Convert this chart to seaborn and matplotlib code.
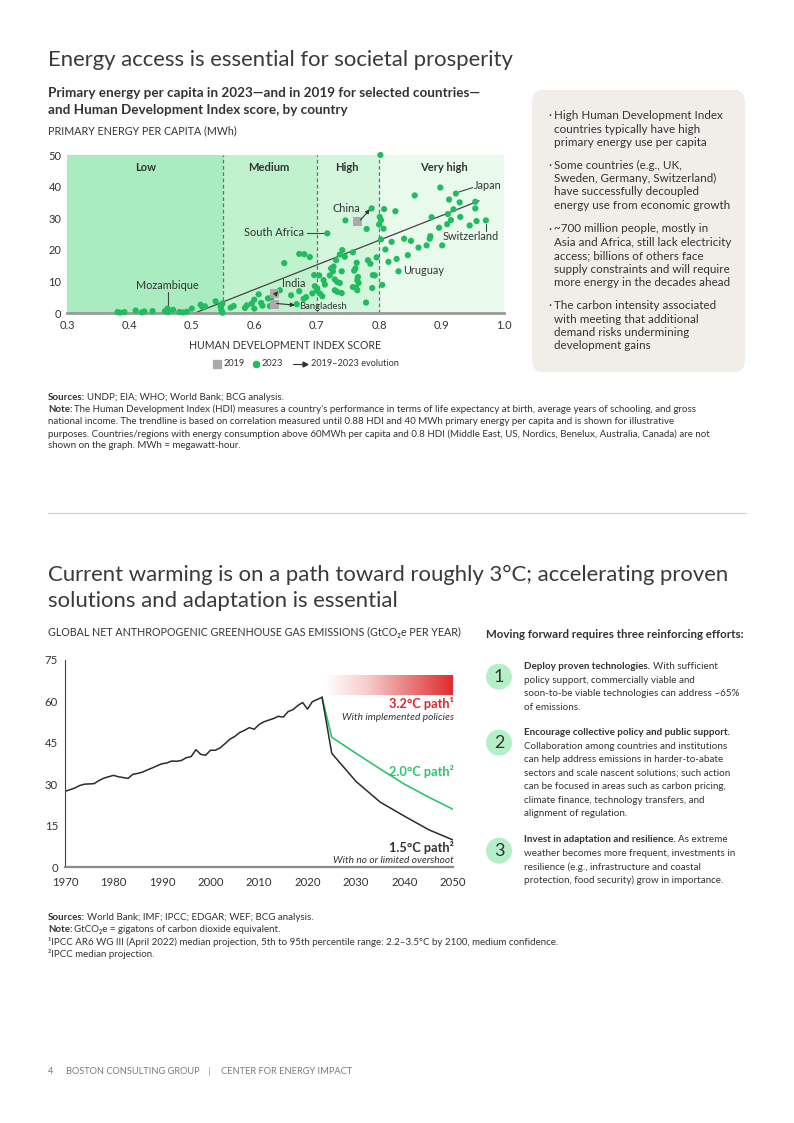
import numpy as np
import pandas as pd
import matplotlib
matplotlib.use("Agg")
import matplotlib.pyplot as plt
import seaborn as sns
from matplotlib.patches import FancyBboxPatch, Ellipse
from matplotlib.lines import Line2D
from matplotlib.colors import LinearSegmentedColormap

sns.set_theme(style="white")
plt.rcParams["font.family"] = ["Lato", "DejaVu Sans"]

# ---------------- data: HDI vs primary energy ----------------
hdi_2023 = [0.381, 0.385, 0.392, 0.410, 0.420, 0.424, 0.437, 0.457, 0.461, 0.462,
            0.470, 0.480, 0.486, 0.492, 0.500, 0.514, 0.517, 0.521, 0.538, 0.546,
            0.547, 0.548, 0.549, 0.549,
            0.562, 0.567, 0.585, 0.588, 0.596, 0.600, 0.600, 0.607, 0.611, 0.613,
            0.622, 0.627, 0.625, 0.641, 0.648, 0.659, 0.668, 0.672, 0.680, 0.689,
            0.672, 0.679, 0.696, 0.697, 0.693, 0.683,
            0.700, 0.701, 0.704, 0.705, 0.709, 0.711, 0.713, 0.717, 0.721, 0.723,
            0.726, 0.727, 0.729, 0.729, 0.731, 0.733, 0.733, 0.737, 0.737, 0.740,
            0.740, 0.741, 0.745, 0.746, 0.758, 0.758, 0.760, 0.762, 0.763, 0.764,
            0.765, 0.765, 0.766, 0.767, 0.779, 0.780, 0.782, 0.786, 0.788, 0.789,
            0.790, 0.793, 0.796,
            0.800, 0.801, 0.802, 0.803, 0.803, 0.805, 0.807, 0.808, 0.810, 0.815,
            0.820, 0.826, 0.828, 0.831, 0.840, 0.846, 0.851, 0.857, 0.863, 0.876,
            0.881, 0.882, 0.884, 0.896, 0.898, 0.901, 0.909, 0.910, 0.912, 0.915,
            0.919, 0.923, 0.929, 0.930, 0.945, 0.954, 0.954, 0.956, 0.971]
energy_2023 = [0.3, 0.1, 0.3, 0.8, 0.2, 0.5, 0.6, 0.6, 1.4, 0.3,
               1.0, 0.3, 0.2, 0.4, 1.4, 2.6, 1.9, 2.1, 3.7, 2.2,
               1.2, 0.5, 3.0, 0.1,
               1.7, 2.2, 1.6, 2.4, 3.0, 1.4, 4.2, 5.9, 3.2, 2.3,
               4.6, 4.8, 2.2, 7.2, 15.8, 5.6, 2.8, 18.7, 18.6, 17.7,
               6.9, 4.5, 12.0, 8.5, 6.2, 5.0,
               7.1, 7.8, 11.9, 6.2, 5.3, 10.4, 9.0, 25.2, 11.9, 14.1,
               13.2, 14.7, 10.6, 7.2, 16.7, 9.8, 6.7, 18.5, 9.5, 13.2,
               6.3, 19.9, 17.8, 29.3, 19.2, 8.2, 13.4, 14.1, 8.0, 15.9,
               7.2, 10.4, 11.4, 9.5, 3.3, 26.6, 16.7, 15.6, 33.1, 7.9,
               12.0, 11.9, 17.6,
               28.0, 30.4, 50.0, 29.4, 23.3, 8.9, 26.7, 32.9, 20.1, 16.2,
               22.5, 32.2, 17.1, 13.2, 23.5, 18.3, 22.8, 37.2, 20.7, 21.4,
               23.5, 24.3, 30.3, 27.0, 39.7, 21.4, 28.1, 31.3, 35.9, 29.4,
               32.8, 37.8, 35.0, 30.4, 27.7, 35.2, 33.1, 29.1, 29.3]
countries_2019 = ["China", "India", "Bangladesh"]
hdi_2019 = [0.766, 0.632, 0.632]
energy_2019 = [29.1, 6.1, 2.7]
hdi_2023_sel = [0.788, 0.641, 0.668]
energy_2023_sel = [33.1, 7.2, 2.8]
hdi_bins = [0.3, 0.55, 0.7, 0.8, 1.0]
hdi_groups = ["Low", "Medium", "High", "Very high"]
trend_hdi = [0.505, 0.96]
trend_energy = [0.0, 35.5]

# ---------------- data: emissions ----------------
years_hist = list(range(1970, 2024))
emissions_hist = [27.4, 28.0, 28.6, 29.5, 30.0, 30.1, 30.2, 31.3, 32.2, 32.7,
                  33.2, 32.7, 32.4, 32.1, 33.6, 33.9, 34.4, 35.2, 35.9, 36.7,
                  37.4, 37.7, 38.4, 38.3, 38.6, 39.6, 40.0, 42.5, 40.8, 40.5,
                  42.3, 42.3, 43.2, 44.7, 46.3, 47.3, 48.7, 49.5, 50.5, 49.9,
                  51.6, 52.6, 53.2, 53.8, 54.6, 54.3, 56.3, 57.0, 58.5, 59.6,
                  57.2, 59.9, 60.7, 61.5]
years_proj = [2023, 2025, 2030, 2035, 2040, 2045, 2050]
path_20 = [61.5, 47.0, 41.2, 35.5, 30.0, 25.3, 20.9]
path_15 = [61.5, 41.2, 31.0, 23.5, 18.4, 13.5, 9.8]

# ---------------- figure ----------------
W, H = 794, 1123
fig = plt.figure(figsize=(W / 100, H / 100), dpi=100)
fig.patch.set_facecolor("white")
DARK = "#333333"
GREEN = "#22bb5f"


def ftext(x, y, s, **kw):
    kw.setdefault("va", "center")
    kw.setdefault("color", DARK)
    return fig.text(x / W, 1 - y / H, s, **kw)


def rich(x, y, parts, size, gap=2.6, **kw):
    renderer = fig.canvas.get_renderer()
    cur = x
    for s, w in parts:
        t = ftext(cur, y, s, fontsize=size, fontweight=w, ha="left", **kw)
        bb = t.get_window_extent(renderer)
        cur += bb.width + gap


def axes_px(left, top, right, bottom):
    return fig.add_axes([left / W, 1 - bottom / H, (right - left) / W, (bottom - top) / H])


TITLE_KW = dict(fontsize=15.9, fontweight="normal", color="#3a3a3a")

# ---------- section 1 titles ----------
ftext(48, 60, "Energy access is essential for societal prosperity", **TITLE_KW)
ftext(48, 93, "Primary energy per capita in 2023\u2014and in 2019 for selected countries\u2014",
      fontsize=9.7, fontweight="bold")
ftext(48, 110, "and Human Development Index score, by country", fontsize=9.7, fontweight="bold")
ftext(48, 131, "PRIMARY ENERGY PER CAPITA (MWh)", fontsize=7.7)

# ---------- scatter ----------
ax = axes_px(67, 155, 504, 313)
zone_colors = ["#a8ecbf", "#bff2cd", "#d4f6dc", "#e7faec"]
for lo, hi, c in zip(hdi_bins[:-1], hdi_bins[1:], zone_colors):
    ax.axvspan(lo, hi, color=c, lw=0, zorder=0)
for b in hdi_bins[1:-1]:
    ax.axvline(b, color="#6f6f6f", lw=0.9, ls=(0, (3, 2)), zorder=1)
zone_lbl_x = [0.426, 0.623, 0.749, 0.904]
for gx, g in zip(zone_lbl_x, hdi_groups):
    ax.text(gx, 46, g, ha="center", va="center", fontsize=8, fontweight="bold", color=DARK)

sns.lineplot(x=trend_hdi, y=trend_energy, ax=ax, color="#444444", lw=0.9, zorder=2)
sns.scatterplot(x=hdi_2023, y=energy_2023, ax=ax, color=GREEN, s=20, edgecolor="none",
                zorder=3, clip_on=False)
sns.scatterplot(x=hdi_2019, y=energy_2019, ax=ax, color="#ababab", marker="s", s=42,
                edgecolor="none", zorder=3)
for x0, y0, x1, y1 in zip(hdi_2019, energy_2019, hdi_2023_sel, energy_2023_sel):
    ax.annotate("", xy=(x1 - 0.003, y1 - 0.3), xytext=(x0 + 0.004, y0 + 0.3),
                arrowprops=dict(arrowstyle="-|>", color="#333", lw=0.8,
                                mutation_scale=6, shrinkA=0, shrinkB=0), zorder=4)

lbl_kw = dict(fontsize=7.8, color=DARK, va="center")
ax.text(0.951, 40.2, "Japan", ha="left", **lbl_kw)
ax.plot([0.928, 0.95], [38.3, 39.7], color="#444", lw=0.8)
ax.text(0.901, 24.1, "Switzerland", ha="left", **lbl_kw)
ax.plot([0.971, 0.971], [28.1, 25.9], color="#444", lw=0.8)
ax.text(0.839, 13.3, "Uruguay", ha="left", **lbl_kw)
ax.text(0.747, 33.2, "China", ha="center", **lbl_kw)
ax.text(0.679, 25.5, "South Africa", ha="right", **lbl_kw)
ax.plot([0.684, 0.711], [25.3, 25.3], color="#444", lw=0.8)
ax.text(0.644, 9.2, "India", ha="left", **lbl_kw)
ax.text(0.672, 2.0, "Bangladesh", ha="left", fontsize=6.8, color=DARK, va="center")
ax.text(0.46, 8.6, "Mozambique", ha="center", **lbl_kw)
ax.plot([0.462, 0.462], [6.7, 1.9], color="#444", lw=0.8)

ax.set_xlim(0.3, 1.0)
ax.set_ylim(0, 50)
ax.set_xticks(np.arange(0.3, 1.01, 0.1))
ax.set_xticklabels([f"{v:.1f}" for v in np.arange(0.3, 1.01, 0.1)])
ax.set_yticks(range(0, 51, 10))
ax.tick_params(axis="both", length=0, labelsize=8, labelcolor=DARK)
ax.tick_params(axis="x", pad=5)
ax.tick_params(axis="y", pad=4)
for s in ["top", "right", "left"]:
    ax.spines[s].set_visible(False)
ax.spines["bottom"].set_color("#9a9a9a")
ax.spines["bottom"].set_linewidth(2)
ax.set_xlabel("")
ax.set_ylabel("")

ftext(285, 345, "HUMAN DEVELOPMENT INDEX SCORE", fontsize=7.6, ha="center")
# legend
fig.add_artist(Line2D([217 / W], [1 - 364 / H], marker="s", color="#ababab", ms=5.5, lw=0,
                      transform=fig.transFigure))
ftext(224, 364, "2019", fontsize=6.6, ha="left")
fig.add_artist(Line2D([256 / W], [1 - 364 / H], marker="o", color=GREEN, ms=4.5, lw=0,
                      transform=fig.transFigure))
ftext(262, 364, "2023", fontsize=6.6, ha="left")
fig.add_artist(Line2D([293 / W, 305 / W], [1 - 364 / H] * 2, color="#333", lw=0.8,
                      transform=fig.transFigure))
fig.add_artist(Line2D([305 / W], [1 - 364 / H], marker=">", color="#333", ms=3.5, lw=0,
                      transform=fig.transFigure))
ftext(311, 364, "2019\u20132023 evolution", fontsize=6.6, ha="left")

# ---------- sidebar ----------
box = FancyBboxPatch((532 / W, 1 - 372 / H), (745 - 532) / W, (372 - 90) / H,
                     boxstyle="round,pad=0,rounding_size=0.012", transform=fig.transFigure,
                     facecolor="#f1eeea", edgecolor="none", zorder=0)
fig.add_artist(box)
bullets = [
    ["High Human Development Index", "countries typically have high",
     "primary energy use per capita"],
    ["Some countries (e.g., UK,", "Sweden, Germany, Switzerland)",
     "have successfully decoupled", "energy use from economic growth"],
    ["~700 million people, mostly in", "Asia and Africa, still lack electricity",
     "access; billions of others face", "supply constraints and will require",
     "more energy in the decades ahead"],
    ["The carbon intensity associated", "with meeting that additional",
     "demand risks undermining", "development gains"],
]
bullet_y = [115.7, 165, 229, 305.7]
for by, lines in zip(bullet_y, bullets):
    ftext(548, by, "\u00b7", fontsize=8.5, ha="left")
    for i, ln in enumerate(lines):
        ftext(553.5, by + i * 13.4, ln, fontsize=8.4, ha="left")

# ---------- footnotes section 1 ----------
fn = 7.05
rich(48, 397, [("Sources:", "bold"), ("UNDP; EIA; WHO; World Bank; BCG analysis.", "normal")], fn, gap=1.8)
rich(48, 409, [("Note:", "bold"),
               ("The Human Development Index (HDI) measures a country's performance in terms of life expectancy at birth, average years of schooling, and gross", "normal")], fn, gap=1.8)
ftext(48, 421.5, "national income. The trendline is based on correlation measured until 0.88 HDI and 40 MWh primary energy per capita and is shown for illustrative", fontsize=fn, ha="left")
ftext(48, 434, "purposes. Countries/regions with energy consumption above 60MWh per capita and 0.8 HDI (Middle East, US, Nordics, Benelux, Australia, Canada) are not", fontsize=fn, ha="left")
ftext(48, 446, "shown on the graph. MWh = megawatt-hour.", fontsize=fn, ha="left")

fig.add_artist(Line2D([48 / W, 746 / W], [1 - 513 / H] * 2, color="#d0d0d0", lw=0.9,
                      transform=fig.transFigure))

# ---------- section 2 titles ----------
ftext(48, 575, "Current warming is on a path toward roughly 3\u00b0C; accelerating proven",
      **TITLE_KW)
ftext(48, 601, "solutions and adaptation is essential", **TITLE_KW)
ftext(48, 632, "GLOBAL NET ANTHROPOGENIC GREENHOUSE GAS EMISSIONS (GtCO\u2082e PER YEAR)",
      fontsize=7.7, ha="left")

# ---------- emissions chart ----------
ax2 = axes_px(65, 660, 453, 867)
hist_df = pd.DataFrame({"year": years_hist, "emissions": emissions_hist})
proj_df = pd.DataFrame({"year": years_proj, "p20": path_20, "p15": path_15})
sns.lineplot(data=proj_df, x="year", y="p20", ax=ax2, color="#2ec46c", lw=1.2)
sns.lineplot(data=proj_df, x="year", y="p15", ax=ax2, color="#2b2b2b", lw=1.1)
sns.lineplot(data=hist_df, x="year", y="emissions", ax=ax2, color="#2b2b2b", lw=1.1)

cmap = LinearSegmentedColormap.from_list("redgrad", ["#ffffff", "#f6caca", "#e9797a", "#e0282a"])
ax2.imshow(np.linspace(0, 1, 256)[None, :], cmap=cmap, aspect="auto",
           extent=[2023.7, 2050.4, 62.3, 69.2], zorder=1, interpolation="bilinear")
ax2.text(2050.2, 59.4, "3.2\u00b0C path\u00b9", ha="right", va="center", fontsize=9.2,
         fontweight="bold", color="#d9262a")
ax2.text(2050.2, 54.2, "With implemented policies", ha="right", va="center", fontsize=7.3,
         fontstyle="italic", color=DARK)
ax2.text(2050.2, 34.6, "2.0\u00b0C path\u00b2", ha="right", va="center", fontsize=9.2,
         fontweight="bold", color="#2ec46c")
ax2.text(2050.2, 7.2, "1.5\u00b0C path\u00b2", ha="right", va="center", fontsize=9.2,
         fontweight="bold", color=DARK)
ax2.text(2050.2, 2.5, "With no or limited overshoot", ha="right", va="center", fontsize=7.3,
         fontstyle="italic", color=DARK)

ax2.set_xlim(1970, 2050)
ax2.set_ylim(0, 75)
ax2.set_xticks(range(1970, 2051, 10))
ax2.set_yticks(range(0, 76, 15))
ax2.tick_params(axis="both", length=0, labelsize=8.2, labelcolor=DARK)
ax2.tick_params(axis="x", pad=7)
ax2.tick_params(axis="y", pad=5)
for s in ["top", "right"]:
    ax2.spines[s].set_visible(False)
ax2.spines["left"].set_color("#444")
ax2.spines["left"].set_linewidth(0.8)
ax2.spines["bottom"].set_color("#8a8a8a")
ax2.spines["bottom"].set_linewidth(1.6)
ax2.set_xlabel("")
ax2.set_ylabel("")

# ---------- efforts list ----------
ftext(486, 634, "Moving forward requires three reinforcing efforts:", fontsize=8.25,
      fontweight="bold", ha="left")
items = [
    (676.7, "1", [[("Deploy proven technologies.", "bold"), ("With sufficient", "normal")],
                  [("policy support, commercially viable and", "normal")],
                  [("soon-to-be viable technologies can address ~65%", "normal")],
                  [("of emissions.", "normal")]], 666.7),
    (742.7, "2", [[("Encourage collective policy and public support.", "bold")],
                  [("Collaboration among countries and institutions", "normal")],
                  [("can help address emissions in harder-to-abate", "normal")],
                  [("sectors and scale nascent solutions; such action", "normal")],
                  [("can be focused in areas such as carbon pricing,", "normal")],
                  [("climate finance, technology transfers, and", "normal")],
                  [("alignment of regulation.", "normal")]], 732.7),
    (850.7, "3", [[("Invest in adaptation and resilience.", "bold"), ("As extreme", "normal")],
                  [("weather becomes more frequent, investments in", "normal")],
                  [("resilience (e.g., infrastructure and coastal", "normal")],
                  [("protection, food security) grow in importance.", "normal")]], 840),
]
for cy, num, lines, ty in items:
    fig.add_artist(Ellipse((499 / W, 1 - cy / H), 26 / W, 26 / H, transform=fig.transFigure,
                           facecolor="#b5efc8", edgecolor="none"))
    ftext(499, cy + 0.5, num, fontsize=13, ha="center", color=DARK, fontweight="normal")
    for i, parts in enumerate(lines):
        rich(524.3, ty + i * 13.5, parts, 7.1, gap=2.4)

# ---------- footnotes section 2 ----------
rich(48, 918, [("Sources:", "bold"), ("World Bank; IMF; IPCC; EDGAR; WEF; BCG analysis.", "normal")], fn, gap=1.8)
rich(48, 930, [("Note:", "bold"), ("GtCO\u2082e = gigatons of carbon dioxide equivalent.", "normal")], fn, gap=1.8)
ftext(48, 942, "\u00b9IPCC AR6 WG III (April 2022) median projection, 5th to 95th percentile range: 2.2\u20133.5\u00b0C by 2100, medium confidence.", fontsize=fn, ha="left")
ftext(48, 954, "\u00b2IPCC median projection.", fontsize=fn, ha="left")

# ---------- footer ----------
ftext(48, 1071, "4", fontsize=6.7, ha="left", color="#7a7a7a")
ftext(66, 1071, "BOSTON CONSULTING GROUP", fontsize=6.7, ha="left", color="#7a7a7a")
ftext(208, 1071, "|", fontsize=7.5, ha="left", color="#c8a070")
ftext(221, 1071, "CENTER FOR ENERGY IMPACT", fontsize=6.7, ha="left", color="#7a7a7a")

fig.savefig("out.png", dpi=100, facecolor="white")
